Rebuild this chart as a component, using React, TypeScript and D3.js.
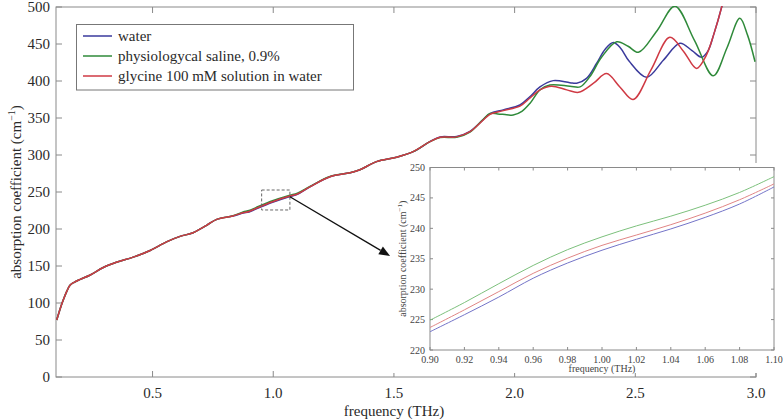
import React from 'react';
import * as d3 from 'd3';

// ---------- main chart data ----------
const waterFreq = [0.103, 0.115, 0.13, 0.145, 0.158, 0.175, 0.2, 0.24, 0.296, 0.35, 0.42, 0.49, 0.56, 0.614, 0.668, 0.724, 0.766, 0.833, 0.875, 0.9, 0.93, 1.0, 1.069, 1.1, 1.152, 1.235, 1.318, 1.359, 1.428, 1.511, 1.58, 1.649, 1.691, 1.76, 1.815, 1.869, 1.898, 1.953, 2.022, 2.064, 2.105, 2.16, 2.229, 2.257, 2.298, 2.34, 2.375, 2.409, 2.44, 2.474, 2.547, 2.616, 2.685, 2.735, 2.775, 2.8, 2.826, 2.865, 2.9];
const waterAbs = [77, 90, 104, 116, 124, 128, 132, 137.5, 148, 155, 162, 171, 183, 190, 195, 205, 213, 217.6, 221.5, 223, 227.3, 236.4, 244, 246.8, 257, 270.7, 276, 280, 291, 297, 304.5, 318, 324.5, 325, 332, 347.5, 356, 361, 367.6, 379, 392, 400.5, 397.7, 397, 403.6, 424, 443, 452, 444, 427, 405, 428, 451, 441, 432, 440, 464, 509, 560];

const salineFreq = [0.103, 0.115, 0.13, 0.145, 0.158, 0.175, 0.2, 0.24, 0.296, 0.35, 0.42, 0.49, 0.56, 0.614, 0.668, 0.724, 0.766, 0.833, 0.875, 0.9, 0.93, 1.0, 1.069, 1.1, 1.152, 1.235, 1.318, 1.359, 1.428, 1.511, 1.58, 1.649, 1.691, 1.76, 1.815, 1.869, 1.898, 1.93, 1.967, 1.994, 2.03, 2.064, 2.105, 2.146, 2.229, 2.271, 2.312, 2.36, 2.423, 2.47, 2.513, 2.59, 2.664, 2.745, 2.823, 2.88, 2.933, 2.965, 2.996];
const salineAbs = [77, 90, 104, 116, 124, 128, 132, 137.5, 148, 155, 162, 171, 183, 190, 195, 205, 213, 217.8, 223, 224.9, 229.3, 238.6, 245.5, 248.5, 257.5, 271, 276, 280, 291, 297, 304.5, 318, 323.5, 324, 331, 348, 356, 355.5, 354.5, 354, 359, 370, 388, 394.6, 393, 392, 406, 432, 453, 447, 438.8, 468, 501, 455, 407, 445, 484.7, 462, 426];

const glycineFreq = [0.103, 0.115, 0.13, 0.145, 0.158, 0.175, 0.2, 0.24, 0.296, 0.35, 0.42, 0.49, 0.56, 0.614, 0.668, 0.724, 0.766, 0.833, 0.875, 0.9, 0.93, 1.0, 1.069, 1.1, 1.152, 1.235, 1.318, 1.359, 1.428, 1.511, 1.58, 1.649, 1.691, 1.76, 1.815, 1.869, 1.898, 1.953, 2.022, 2.064, 2.105, 2.153, 2.216, 2.265, 2.327, 2.381, 2.436, 2.491, 2.565, 2.643, 2.7, 2.754, 2.793, 2.826, 2.865, 2.9];
const glycineAbs = [77, 90, 104, 116, 124, 128, 132, 137.5, 148, 155, 162, 171, 183, 190, 195, 205, 213, 217.6, 222, 223.7, 228.1, 237.2, 244.5, 247.3, 257, 270.7, 276, 280, 291, 297, 304.5, 318, 324, 324.5, 331.5, 347, 355, 360, 366, 377, 388, 393, 388, 384.7, 397, 410, 392, 375, 415, 459, 440, 417, 434, 464, 509, 560];

const seriesNames = ['water', 'physiologycal saline, 0.9%', 'glycine 100 mM solution in water'];

const xTickValues = [0.5, 1.0, 1.5, 2.0, 2.5, 3.0];
const xTickLabels = ['0.5', '1.0', '1.5', '2.0', '2.5', '3.0'];
const yTickValues = [0, 50, 100, 150, 200, 250, 300, 350, 400, 450, 500];

// ---------- inset data ----------
const insetFreq = [0.9, 0.92, 0.94, 0.96, 0.98, 1.0, 1.02, 1.04, 1.06, 1.08, 1.1];
const insetWater = [223.0, 225.8, 228.7, 231.8, 234.3, 236.4, 238.2, 239.9, 241.8, 244.0, 246.8];
const insetGlycine = [223.7, 226.6, 229.6, 232.6, 235.1, 237.2, 238.9, 240.6, 242.5, 244.7, 247.3];
const insetSaline = [224.9, 227.8, 230.9, 233.9, 236.5, 238.6, 240.4, 242.0, 243.8, 245.9, 248.5];
const insetXTicks = [0.9, 0.92, 0.94, 0.96, 0.98, 1.0, 1.02, 1.04, 1.06, 1.08, 1.1];
const insetYTicks = [220, 225, 230, 235, 240, 245, 250];

// zoom-box and arrow annotation (data units)
const zoomBoxF = [0.952, 1.069];
const zoomBoxA = [225.7, 252.7];
const arrowFrom = [1.069, 243.6];
const arrowTo = [1.484, 163.5];

const FONT = '"Liberation Serif", "Times New Roman", serif';
const AXIS = '#8a8a8a';
const TXT = '#2a2a2a';
const mainColors = ['#3a3a9c', '#2f8a3a', '#cf3a44'];
const insetColors = ['#7474c8', '#7cc07c', '#e08585'];

export default function App() {
  const x = d3.scaleLinear().domain([0.1, 3.0]).range([56, 756]);
  const y = d3.scaleLinear().domain([0, 500]).range([377, 7]);

  const ix = d3.scaleLinear().domain([0.9, 1.1]).range([430, 774]);
  const iy = d3.scaleLinear().domain([220, 250]).range([350, 167.5]);

  const line = d3
    .line<[number, number]>()
    .x((d) => x(d[0]))
    .y((d) => y(d[1]))
    .curve(d3.curveCatmullRom.alpha(0.5));

  const iline = d3
    .line<[number, number]>()
    .x((d) => ix(d[0]))
    .y((d) => iy(d[1]))
    .curve(d3.curveCatmullRom.alpha(0.5));

  const mainSeries: [number, number][][] = [
    waterFreq.map((f, i) => [f, waterAbs[i]] as [number, number]),
    salineFreq.map((f, i) => [f, salineAbs[i]] as [number, number]),
    glycineFreq.map((f, i) => [f, glycineAbs[i]] as [number, number]),
  ];
  const insetSeries: [number, number][][] = [
    insetFreq.map((f, i) => [f, insetWater[i]] as [number, number]),
    insetFreq.map((f, i) => [f, insetSaline[i]] as [number, number]),
    insetFreq.map((f, i) => [f, insetGlycine[i]] as [number, number]),
  ];

  const [x0, x1] = x.range();
  const [yb, yt] = y.range();
  const [ix0, ix1] = ix.range();
  const [iyb, iyt] = iy.range();

  // arrow geometry
  const ax0 = x(arrowFrom[0]);
  const ay0 = y(arrowFrom[1]);
  const ax1 = x(arrowTo[0]);
  const ay1 = y(arrowTo[1]);
  const ang = Math.atan2(ay1 - ay0, ax1 - ax0);
  const headL = 11;
  const headW = 4.5;
  const bx = ax1 - headL * Math.cos(ang);
  const by = ay1 - headL * Math.sin(ang);
  const head = [
    [ax1, ay1],
    [bx + headW * Math.sin(ang), by - headW * Math.cos(ang)],
    [bx - headW * Math.sin(ang), by + headW * Math.cos(ang)],
  ]
    .map((p) => p.join(','))
    .join(' ');

  const tl = 6;
  const itl = 3;

  return (
    <svg
      width={784}
      height={420}
      style={{ position: 'absolute', left: 0, top: 0, background: '#fff' }}
      fontFamily={FONT}
    >
      <defs>
        <clipPath id="mainClip">
          <rect x={x0} y={yt - 1} width={x1 - x0} height={yb - yt + 1} />
        </clipPath>
        <clipPath id="insetClip">
          <rect x={ix0} y={iyt} width={ix1 - ix0} height={iyb - iyt} />
        </clipPath>
      </defs>
      <rect x={0} y={0} width={784} height={420} fill="#fff" />

      {/* main frame */}
      <rect x={x0} y={yt} width={x1 - x0} height={yb - yt} fill="none" stroke={AXIS} strokeWidth={1} />

      {/* main ticks */}
      {xTickValues.map((v, i) => (
        <g key={'xt' + i}>
          <line x1={x(v)} x2={x(v)} y1={yb} y2={yb - tl} stroke={AXIS} />
          <line x1={x(v)} x2={x(v)} y1={yt} y2={yt + tl} stroke={AXIS} />
          <text x={x(v)} y={398} textAnchor="middle" fontSize={15} fill={TXT}>
            {xTickLabels[i]}
          </text>
        </g>
      ))}
      {yTickValues.map((v, i) => (
        <g key={'yt' + i}>
          <line x1={x0} x2={x0 + tl} y1={y(v)} y2={y(v)} stroke={AXIS} />
          <line x1={x1} x2={x1 - tl} y1={y(v)} y2={y(v)} stroke={AXIS} />
          <text x={50} y={y(v) + 5} textAnchor="end" fontSize={15} fill={TXT}>
            {v}
          </text>
        </g>
      ))}

      {/* axis titles */}
      <text x={394} y={416} textAnchor="middle" fontSize={15} fill={TXT}>
        frequency (THz)
      </text>
      <text transform={`translate(21, ${(yb + yt) / 2}) rotate(-90)`} textAnchor="middle" fontSize={15} fill={TXT}>
        absorption coefficient (cm
        <tspan fontSize={10} dy={-6}>−1</tspan>
        <tspan dy={6}>)</tspan>
      </text>

      {/* main lines */}
      <g clipPath="url(#mainClip)">
        {mainSeries.map((s, i) => (
          <path key={'ml' + i} d={line(s) || ''} fill="none" stroke={mainColors[i]} strokeWidth={1.5} />
        ))}
      </g>

      {/* legend */}
      <rect x={76.5} y={24.5} width={277} height={65.5} fill="#fff" stroke="#777" strokeWidth={1} />
      {seriesNames.map((n, i) => (
        <g key={'lg' + i}>
          <line x1={83} x2={112} y1={36 + i * 20} y2={36 + i * 20} stroke={mainColors[i]} strokeWidth={1.5} />
          <text x={118} y={41 + i * 20} fontSize={15} fill={TXT}>
            {n}
          </text>
        </g>
      ))}

      {/* zoom box and arrow */}
      <rect
        x={x(zoomBoxF[0])}
        y={y(zoomBoxA[1])}
        width={x(zoomBoxF[1]) - x(zoomBoxF[0])}
        height={y(zoomBoxA[0]) - y(zoomBoxA[1])}
        fill="none"
        stroke="#666"
        strokeWidth={1}
        strokeDasharray="3,2"
      />
      <line x1={ax0} y1={ay0} x2={bx} y2={by} stroke="#111" strokeWidth={1.3} />
      <polygon points={head} fill="#111" />

      {/* inset background */}
      <rect x={393} y={163} width={391} height={210} fill="#fff" />

      {/* inset frame & ticks */}
      <rect x={ix0} y={iyt} width={ix1 - ix0} height={iyb - iyt} fill="none" stroke={AXIS} strokeWidth={1} />
      {insetXTicks.map((v, i) => (
        <g key={'ixt' + i}>
          <line x1={ix(v)} x2={ix(v)} y1={iyb} y2={iyb - itl} stroke={AXIS} />
          <line x1={ix(v)} x2={ix(v)} y1={iyt} y2={iyt + itl} stroke={AXIS} />
          <text x={ix(v)} y={362.5} textAnchor="middle" fontSize={10} fill="#444">
            {v.toFixed(2)}
          </text>
        </g>
      ))}
      {insetYTicks.map((v, i) => (
        <g key={'iyt' + i}>
          <line x1={ix0} x2={ix0 + itl} y1={iy(v)} y2={iy(v)} stroke={AXIS} />
          <line x1={ix1} x2={ix1 - itl} y1={iy(v)} y2={iy(v)} stroke={AXIS} />
          <text x={425} y={iy(v) + 3.5} textAnchor="end" fontSize={10} fill="#444">
            {v}
          </text>
        </g>
      ))}
      <text x={(ix0 + ix1) / 2} y={372} textAnchor="middle" fontSize={10} fill="#444">
        frequency (THz)
      </text>
      <text transform={`translate(406, ${(iyb + iyt) / 2}) rotate(-90)`} textAnchor="middle" fontSize={10} fill="#444">
        absorption coefficient (cm
        <tspan fontSize={7} dy={-4}>−1</tspan>
        <tspan dy={4}>)</tspan>
      </text>

      {/* inset lines */}
      <g clipPath="url(#insetClip)">
        {insetSeries.map((s, i) => (
          <path key={'il' + i} d={iline(s) || ''} fill="none" stroke={insetColors[i]} strokeWidth={1} />
        ))}
      </g>
    </svg>
  );
}
